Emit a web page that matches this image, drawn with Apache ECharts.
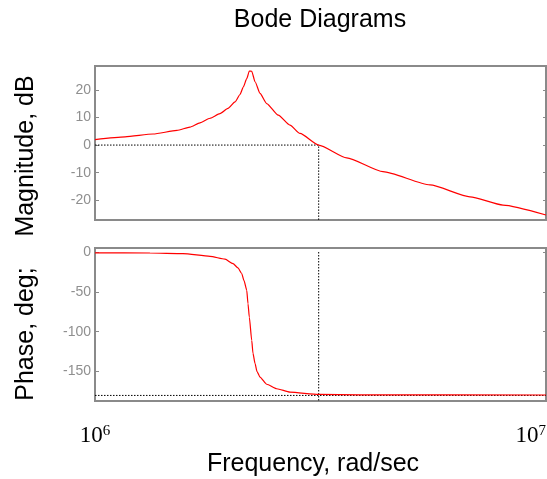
<!DOCTYPE html>
<html><head><meta charset="utf-8">
<script src="https://cdn.jsdelivr.net/npm/echarts@6/dist/echarts.min.js"></script>
<style>html,body{margin:0;padding:0;background:#fff}#c{width:547px;height:479px}</style>
</head><body><div id="c"></div>
<script>
// ---- data ----
const magFreq = [1.000e6, 1.166e6, 1.345e6, 1.520e6, 1.624e6, 1.709e6, 1.799e6, 1.893e6, 1.972e6, 2.044e6, 2.097e6, 2.132e6, 2.170e6, 2.199e6, 2.226e6, 2.264e6, 2.322e6, 2.403e6, 2.549e6, 2.706e6, 2.848e6, 3.133e6, 3.615e6, 4.351e6, 5.531e6, 6.784e6, 8.029e6, 1.0e7];
const magDb   = [2.0, 3.0, 4.0, 5.3, 6.5, 8.0, 9.7, 11.4, 13.3, 15.6, 18.3, 21.0, 24.0, 26.8, 26.7, 22.9, 18.7, 15.0, 10.8, 7.2, 4.2, 0.0, -4.6, -9.6, -14.4, -18.7, -21.7, -25.3];
const phaseFreq = [1.000e6, 1.324e6, 1.567e6, 1.799e6, 1.942e6, 2.023e6, 2.075e6, 2.115e6, 2.140e6, 2.170e6, 2.184e6, 2.199e6, 2.226e6, 2.240e6, 2.264e6, 2.287e6, 2.322e6, 2.403e6, 2.529e6, 2.706e6, 3.133e6, 3.869e6, 1.0e7];
const phaseDeg  = [-1.0, -1.3, -2.0, -5.4, -9.0, -14.6, -20, -27, -36, -48, -65, -82, -111, -127, -140, -150, -157, -166, -171.6, -175.9, -178.8, -179.3, -179.5];
const crossoverFreq = 3.133e6;   // gain crossover (0 dB)
const zeroDb = 0;
const phaseRef = -180;
const freqRange = [1e6, 1e7];
const magRange = [-27.1, 28.6];
const phaseRange = [-187, 5];
const magStep = 10;
const phaseStep = 50;

// ---- chart ----
const zip = (a, b) => a.map((v, i) => [v, b[i]]);
const chart = echarts.init(document.getElementById('c'), null, {renderer: 'canvas'});
const GRAY = '#8a8a8a';
const TXT = '#8f8f8f';
const SANS = '"Liberation Sans", Arial, sans-serif';
const SERIF = '"Liberation Serif", "Times New Roman", serif';
const dotted = {color: '#000', width: 1, type: [1.5, 1.5]};

function yAx(gi, rng, step, right) {
  return {
    type: 'value', gridIndex: gi, min: rng[0], max: rng[1],
    position: right ? 'right' : 'left',
    splitNumber: Math.round((rng[1] - rng[0]) / step),
    axisLine: {show: false},
    axisTick: {show: true, inside: true, length: right ? 3 : 4, lineStyle: {color: GRAY, width: 1}},
    splitLine: {show: false},
    axisLabel: {
      show: !right, color: TXT, fontSize: 14, fontFamily: SANS, margin: 4,
      formatter: v => (Math.abs(v % step) < 1e-9 ? String(v) : '')
    }
  };
}
function xAx(gi, labels) {
  return {
    type: 'log', logBase: 10, gridIndex: gi, min: freqRange[0], max: freqRange[1],
    axisLine: {show: false}, axisTick: {show: false}, splitLine: {show: false},
    minorTick: {show: false},
    axisLabel: labels ? {
      show: true, margin: 23, alignMinLabel: 'center', alignMaxLabel: 'right',
      formatter: v => '{b|10}{s|' + Math.round(Math.log10(v)) + '}',
      rich: {
        b: {fontFamily: SERIF, fontSize: 23, color: '#000'},
        s: {fontFamily: SERIF, fontSize: 15, color: '#000', verticalAlign: 'top'}
      }
    } : {show: false}
  };
}

const option = {
  animation: false,
  backgroundColor: '#fff',
  grid: [
    {left: 95, top: 66, right: 1, height: 154, show: true, borderColor: GRAY, borderWidth: 2, backgroundColor: 'transparent', outerBoundsMode: 'none'},
    {left: 95, top: 248, right: 1, height: 153, show: true, borderColor: GRAY, borderWidth: 2, backgroundColor: 'transparent', outerBoundsMode: 'none'}
  ],
  xAxis: [xAx(0, false), xAx(1, true)],
  yAxis: [yAx(0, magRange, magStep, false), yAx(0, magRange, magStep, true),
          yAx(1, phaseRange, phaseStep, false), yAx(1, phaseRange, phaseStep, true)],
  series: [
    {type: 'line', xAxisIndex: 0, yAxisIndex: 0, symbol: 'none', silent: true,
     lineStyle: dotted, data: [[freqRange[0], zeroDb], [crossoverFreq, zeroDb], [crossoverFreq, magRange[0]]]},
    {type: 'line', xAxisIndex: 1, yAxisIndex: 2, symbol: 'none', silent: true,
     lineStyle: dotted, data: [[freqRange[0], phaseRef], [freqRange[1], phaseRef]]},
    {type: 'line', xAxisIndex: 1, yAxisIndex: 2, symbol: 'none', silent: true,
     lineStyle: dotted, data: [[crossoverFreq, 0], [crossoverFreq, phaseRange[0]]]},
    {type: 'line', xAxisIndex: 0, yAxisIndex: 0, symbol: 'none', smooth: 0.2, smoothMonotone: 'x',
     lineStyle: {color: '#ff0000', width: 1.2}, data: zip(magFreq, magDb)},
    {type: 'line', xAxisIndex: 1, yAxisIndex: 2, symbol: 'none', smooth: 0.2, smoothMonotone: 'x',
     lineStyle: {color: '#ff0000', width: 1.2}, data: zip(phaseFreq, phaseDeg)}
  ],
  graphic: [
    {type: 'text', style: {text: 'Bode Diagrams', font: '25px ' + SANS, fill: '#000', textAlign: 'center', textVerticalAlign: 'bottom', x: 320, y: 33}},
    {type: 'text', style: {text: 'Frequency, rad/sec', font: '25px ' + SANS, fill: '#000', textAlign: 'center', textVerticalAlign: 'bottom', x: 313, y: 477}},
    {type: 'text', x: 26, y: 156, rotation: Math.PI / 2, style: {text: 'Magnitude, dB', font: '25px ' + SANS, fill: '#000', textAlign: 'center', textVerticalAlign: 'middle', x: 0, y: 0}},
    {type: 'text', x: 26, y: 334, rotation: Math.PI / 2, style: {text: 'Phase, deg;', font: '25px ' + SANS, fill: '#000', textAlign: 'center', textVerticalAlign: 'middle', x: 0, y: 0}}
  ]
};
chart.setOption(option);
</script></body></html>
